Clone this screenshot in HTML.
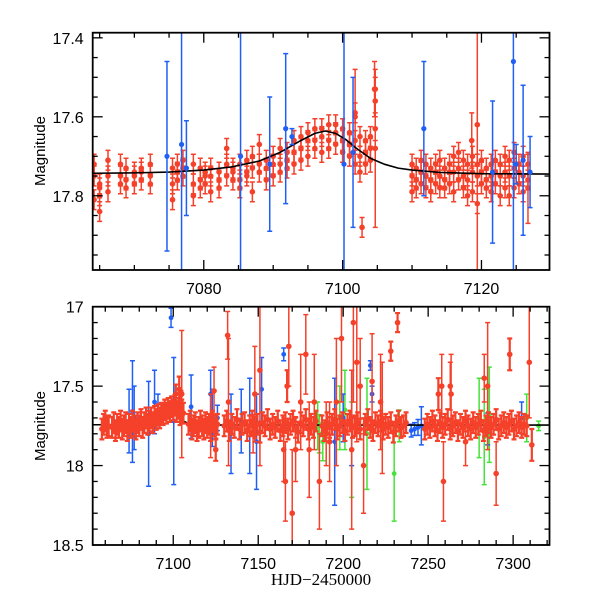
<!DOCTYPE html>
<html><head><meta charset="utf-8"><title>Light curve</title>
<style>
html,body{margin:0;padding:0;background:#fff;}
svg{display:block;}
text{font-family:"Liberation Sans",sans-serif;}
</style></head>
<body>
<svg id="chart" width="600" height="600" viewBox="0 0 600 600" xmlns="http://www.w3.org/2000/svg">
<rect width="600" height="600" fill="#fff"/>
<g id="toppanel"></g>
<g id="botpanel"></g>
<text x="45" y="151" font-size="15" text-anchor="middle" transform="rotate(-90 45 151)">Magnitude</text>
<text x="45" y="426" font-size="15" text-anchor="middle" transform="rotate(-90 45 426)">Magnitude</text>
<text x="321" y="585" font-size="17" text-anchor="middle" style="font-family:'Liberation Serif',serif">HJD−2450000</text>
</svg>
<script>
// ---------- model curve ----------
const curveT = [7050,7064,7070,7075,7080,7084,7088,7091,7094,7096,7097.5,7099,7100.5,7102,7104,7106,7108,7110,7114,7120,7130,7322];
const curveM = [17.743,17.743,17.742,17.74,17.735,17.727,17.712,17.69,17.66,17.642,17.636,17.642,17.658,17.68,17.705,17.72,17.73,17.735,17.741,17.744,17.745,17.745];

// ---------- top panel data ----------
const topRedT = [7064.2,7064.2,7064.2,7065,7065,7065,7065,7066.2,7066.2,7066.2,7068,7068,7068,7068.8,7068.8,7068.8,7070,7070,7070,7071,7071,7071,7072.3,7072.3,7072.3,7075.5,7075.5,7075.5,7076.2,7076.2,7076.2,7077,7077,7077,7078.5,7078.5,7078.5,7079.5,7079.5,7079.5,7080.2,7080.2,7080.2,7081,7081,7081,7082.2,7082.2,7082.2,7083.3,7083.3,7083.3,7084.2,7084.2,7084.2,7085.2,7085.2,7085.2,7086.2,7086.2,7086.2,7087,7087,7087,7088,7088,7088,7089,7089,7089,7090,7090,7090,7091,7091,7091,7092,7092,7092,7093,7093,7093,7094,7094,7094,7095,7095,7095,7096,7096,7096,7097,7097,7097,7098,7098,7098,7099,7099,7099,7100,7100,7100,7101,7101,7101,7101.8,7101.8,7101.8,7102.5,7102.5,7102.5,7103.3,7103.3,7103.3,7104,7104,7104,7104.7,7104.7,7104.7,7104.7,7101.8,7104.6,7102.8,
7110,7110,7110,7110.6,7110.6,7110.6,7111.3,7111.3,7111.3,7112,7112,7112,7112.7,7112.7,7112.7,7113.4,7113.4,7113.4,7114,7114,7114,7114.7,7114.7,7114.7,7115.4,7115.4,7115.4,7116,7116,7116,7116.7,7116.7,7116.7,7117.4,7117.4,7117.4,7118,7118,7118,7118.7,7118.7,7118.7,7119.4,7119.4,7119.4,7120,7120,7120,7120.7,7120.7,7120.7,7121.4,7121.4,7121.4,7122,7122,7122,7122.7,7122.7,7122.7,7123.4,7123.4,7123.4,7124,7124,7124,7124.7,7124.7,7124.7,7125.4,7125.4,7125.4,7126,7126,7126,7126.7,7126.7,7126.7,7118.6,7119.4,7124.9];
const topRedM = [17.72,17.75,17.81,17.77,17.80,17.84,17.78,17.71,17.75,17.79,17.72,17.75,17.77,17.73,17.76,17.78,17.74,17.75,17.77,17.73,17.74,17.76,17.72,17.75,17.77,17.73,17.77,17.81,17.72,17.74,17.76,17.71,17.73,17.75,17.72,17.77,17.80,17.73,17.76,17.78,17.74,17.77,17.75,17.73,17.75,17.79,17.74,17.76,17.78,17.68,17.72,17.75,17.73,17.74,17.76,17.72,17.76,17.78,17.71,17.74,17.75,17.70,17.73,17.79,17.67,17.72,17.74,17.71,17.73,17.76,17.70,17.72,17.75,17.68,17.72,17.74,17.69,17.71,17.73,17.66,17.69,17.72,17.65,17.68,17.71,17.64,17.66,17.70,17.63,17.66,17.68,17.63,17.65,17.69,17.62,17.66,17.68,17.62,17.64,17.67,17.63,17.66,17.69,17.64,17.67,17.70,17.59,17.66,17.72,17.65,17.70,17.74,17.66,17.69,17.72,17.65,17.68,17.71,17.53,17.56,17.63,17.68,17.60,17.53,17.88,
17.72,17.75,17.79,17.73,17.76,17.78,17.71,17.74,17.77,17.72,17.75,17.78,17.73,17.76,17.79,17.72,17.74,17.77,17.71,17.75,17.78,17.73,17.76,17.78,17.72,17.74,17.77,17.70,17.74,17.79,17.69,17.73,17.76,17.71,17.75,17.78,17.72,17.76,17.80,17.70,17.74,17.79,17.72,17.75,17.82,17.71,17.74,17.77,17.73,17.76,17.78,17.72,17.75,17.79,17.71,17.74,17.77,17.72,17.75,17.80,17.70,17.74,17.78,17.71,17.75,17.80,17.69,17.73,17.78,17.72,17.74,17.77,17.70,17.75,17.79,17.72,17.76,17.78,17.66,17.62,17.80];
const topRedE = [0.025,0.025,0.025,0.025,0.025,0.025,0.025,0.025,0.025,0.025,0.025,0.025,0.025,0.025,0.025,0.025,0.025,0.025,0.025,0.025,0.025,0.025,0.025,0.025,0.025,0.025,0.025,0.025,0.025,0.025,0.025,0.025,0.025,0.025,0.025,0.025,0.025,0.025,0.025,0.025,0.025,0.025,0.025,0.025,0.025,0.025,0.025,0.025,0.025,0.025,0.025,0.025,0.025,0.025,0.025,0.025,0.025,0.025,0.025,0.025,0.025,0.025,0.025,0.025,0.025,0.025,0.025,0.025,0.025,0.025,0.025,0.025,0.025,0.025,0.025,0.025,0.025,0.025,0.025,0.025,0.025,0.025,0.025,0.025,0.025,0.025,0.025,0.025,0.025,0.025,0.025,0.025,0.025,0.025,0.025,0.025,0.025,0.025,0.025,0.025,0.025,0.025,0.025,0.025,0.025,0.025,0.025,0.025,0.025,0.025,0.025,0.025,0.025,0.025,0.025,0.025,0.025,0.03,0.03,0.03,0.03,0.2,0.12,0.07,
0.025,0.025,0.025,0.025,0.025,0.025,0.025,0.025,0.025,0.025,0.025,0.025,0.025,0.025,0.025,0.025,0.025,0.025,0.025,0.025,0.025,0.025,0.025,0.025,0.025,0.025,0.025,0.025,0.025,0.025,0.025,0.025,0.025,0.025,0.025,0.025,0.025,0.025,0.025,0.025,0.025,0.025,0.025,0.025,0.025,0.025,0.025,0.025,0.025,0.025,0.025,0.025,0.025,0.025,0.025,0.025,0.025,0.025,0.025,0.025,0.025,0.025,0.025,0.025,0.025,0.025,0.025,0.025,0.025,0.025,0.025,0.025,0.025,0.025,0.025,0.025,0.025,0.025,0.09,0.07,0.45];
const topBlueT = [7074.7,7076.8,7077.5,7085.3,7089.5,7091.8,7092.7,7100.2,7101.5,7111.7,7121.6,7124.6,7125,7126,7127];
const topBlueM = [17.70,17.67,17.73,17.70,17.72,17.63,17.65,17.72,17.69,17.63,17.74,17.46,17.72,17.71,17.74];
const topBlueE = [0.24,0.33,0.12,0.6,0.17,0.19,0.02,0.5,0.19,0.17,0.18,0.6,0.05,0.19,0.09];

// ---------- bottom panel data ----------
const botRedT = [7058,7059,7060,7061,7062,
7064,7065,7066,7067,7068,7069,7070,7071,7072,7073,7074,7075,7076,7077,7078,7079,7080,7081,7082,7083,7084,7085,7086,7087,7088,7089,7090,7091,7092,7093,7094,7095,7096,7097,7098,7099,7100,7101,7102,7103,7104,7105,7106,
7109,7110,7111,7112,7113,7114,7115,7116,7117,7118,7119,7120,7121,7122,7123,7124,7125,7126,
7130,7131.5,7133,7134.5,7136,7137.5,7139,7140.5,7142,7143.5,7145,7146.5,7148,7149.5,7151,7152.5,7154,7155.5,7157,7158.5,7160,7161.5,7163,7164.5,7166,7167.5,7169,7170.5,7172,7173.5,7175,7176.5,7178,7179.5,7181,7182.5,7184,7187.5,7189,7190.5,7192,7193.5,7195,7196.5,7198,7199.5,7201,7202.5,7204,7205.5,7207,7208.5,7210,7213,7214.5,7216,7217.5,7219,7220.5,7222,7223.5,7225,7226.5,7228,7229.5,7231,7232.5,7234,7235.5,7237,
7248,7249.5,7251,7252.5,7254,7255.5,7257,7258.5,7260,7261.5,7263,7264.5,7266,7267.5,7269,7270.5,7272,7273.5,7275,7276.5,7278,7279.5,7281,7282.5,7284,7285.5,7287,7288.5,7290,7291.5,7293,7294.5,7296,7297.5,7299,7300.5,7302,7303.5,7305,7306.5,7308,7309.5,7311,
7101.5,7103.5,7104.5,7105,7122,7124,7125,7132,7132.5,7147,7148,7151,7165,7166,7167,7168,7170,7172,7175,7178,7180,7183,7186,7190,7192,7196,7199,7205,7206,7208,7210,7212,7217,7222,7223,7228,7232,7256,7259,7258,7263,7263.5,7272,7283,7285,7290,7298,7300,7305];
const botRedM = [17.77,17.74,17.72,17.76,17.75,
17.76,17.73,17.78,17.74,17.76,17.72,17.77,17.75,17.73,17.78,17.74,17.76,17.72,17.75,17.77,17.73,17.75,17.71,17.76,17.73,17.70,17.74,17.72,17.70,17.73,17.69,17.71,17.68,17.70,17.67,17.68,17.65,17.67,17.64,17.66,17.63,17.65,17.62,17.66,17.64,17.68,17.65,17.67,
17.74,17.72,17.77,17.75,17.73,17.78,17.76,17.72,17.75,17.77,17.73,17.76,17.74,17.78,17.72,17.75,17.77,17.74,
17.75,17.72,17.78,17.74,17.76,17.71,17.77,17.74,17.73,17.78,17.75,17.72,17.76,17.74,17.79,17.73,17.75,17.71,17.77,17.74,17.76,17.72,17.78,17.75,17.73,17.77,17.74,17.72,17.76,17.79,17.73,17.75,17.71,17.77,17.74,17.76,17.72,17.75,17.78,17.73,17.76,17.74,17.71,17.77,17.75,17.73,17.78,17.74,17.72,17.76,17.75,17.73,17.77,17.74,17.71,17.76,17.78,17.73,17.75,17.72,17.77,17.74,17.76,17.73,17.79,17.75,17.72,17.76,
17.75,17.73,17.77,17.74,17.76,17.72,17.75,17.78,17.73,17.76,17.74,17.71,17.77,17.75,17.73,17.78,17.74,17.76,17.72,17.75,17.77,17.73,17.76,17.74,17.72,17.78,17.75,17.73,17.76,17.74,17.71,17.77,17.75,17.73,17.76,17.74,17.72,17.77,17.75,17.73,17.76,17.74,17.75,
17.35,17.87,17.55,17.52,17.60,17.55,17.75,17.53,17.90,17.18,17.60,17.80,17.55,17.40,17.90,18.10,17.50,17.25,18.30,17.90,17.60,17.30,17.90,17.60,18.10,17.80,17.85,17.60,17.20,17.90,17.10,17.35,17.50,18.00,17.47,17.60,17.70,17.28,17.10,17.55,18.10,17.50,17.50,17.55,17.85,17.45,17.50,18.05,17.30];
const botRedE = [0.065,0.065,0.065,0.065,0.065,
0.065,0.065,0.065,0.065,0.065,0.065,0.065,0.065,0.065,0.065,0.065,0.065,0.065,0.065,0.065,0.065,0.065,0.065,0.065,0.065,0.065,0.065,0.065,0.065,0.065,0.065,0.065,0.065,0.065,0.065,0.065,0.065,0.065,0.065,0.065,0.065,0.065,0.065,0.065,0.065,0.065,0.065,0.065,
0.065,0.065,0.065,0.065,0.065,0.065,0.065,0.065,0.065,0.065,0.065,0.065,0.065,0.065,0.065,0.065,0.065,0.065,
0.065,0.065,0.065,0.065,0.065,0.065,0.065,0.065,0.065,0.065,0.065,0.065,0.065,0.065,0.065,0.065,0.065,0.065,0.065,0.065,0.065,0.065,0.065,0.065,0.065,0.065,0.065,0.065,0.065,0.065,0.065,0.065,0.065,0.065,0.065,0.065,0.065,0.065,0.065,0.065,0.065,0.065,0.065,0.065,0.065,0.065,0.065,0.065,0.065,0.065,0.065,0.065,0.065,0.065,0.065,0.065,0.065,0.065,0.065,0.065,0.065,0.065,0.065,0.065,0.065,0.065,0.065,0.065,
0.065,0.065,0.065,0.065,0.065,0.065,0.065,0.065,0.065,0.065,0.065,0.065,0.065,0.065,0.065,0.065,0.065,0.065,0.065,0.065,0.065,0.065,0.065,0.065,0.065,0.065,0.065,0.065,0.065,0.065,0.065,0.065,0.065,0.065,0.065,0.065,0.065,0.065,0.065,0.065,0.065,0.065,0.065,
0.35,0.1,0.06,0.08,0.07,0.4,0.2,0.15,0.07,0.15,0.4,0.12,0.3,0.6,0.2,0.25,0.1,0.25,0.4,0.2,0.3,0.25,0.3,0.3,0.3,0.2,0.25,0.4,0.4,0.5,0.5,0.5,0.3,0.3,0.3,0.3,0.35,0.06,0.06,0.1,0.25,0.2,0.15,0.25,0.15,0.15,0.4,0.2,0.1];
const botBlueT = [7074,7076,7077,7085.5,7089,7091,7098.7,7100.3,7110.5,7122,7123,7126,7134,7140,7145,7149,7152,7165,7195,7200,7205,7216,7217,7240,7242,7244,7246,7285,7305];
const botBlueM = [17.72,17.66,17.70,17.80,17.60,17.65,17.07,17.72,17.63,17.55,17.70,17.70,17.80,17.72,17.75,17.85,17.52,17.30,17.85,17.70,17.70,17.37,17.55,17.78,17.77,17.76,17.75,17.77,17.70];
const botBlueE = [0.2,0.32,0.2,0.33,0.2,0.1,0.06,0.4,0.2,0.15,0.18,0.08,0.25,0.2,0.3,0.3,0.2,0.04,0.4,0.15,0.3,0.03,0.05,0.04,0.04,0.05,0.12,0.1,0.1];
const botGreenT = [7185,7186,7188,7198,7201,7205,7214,7230,7233,7280,7283,7286,7308,7315];
const botGreenM = [17.75,17.80,17.85,17.70,17.65,17.90,17.80,18.05,17.75,17.70,17.82,17.68,17.70,17.75];
const botGreenE = [0.15,0.12,0.12,0.2,0.25,0.3,0.35,0.3,0.1,0.25,0.3,0.3,0.15,0.03];

const NS='http://www.w3.org/2000/svg';
const RED='#f5402a', BLUE='#1f5ff5', GREEN='#44e33a';
function mk(tag, attrs, parent){const e=document.createElementNS(NS,tag);for(const k in attrs)e.setAttribute(k,attrs[k]);parent.appendChild(e);return e;}

function makePanel(g, id, box, xr, yr, xMinor, xMajor, yMinor, yMajor, xLabFmt, yLabFmt){
  const X=t=>box.l+(t-xr[0])/(xr[1]-xr[0])*(box.r-box.l);
  const Y=m=>box.t+(m-yr[0])/(yr[1]-yr[0])*(box.b-box.t);
  const clipId='clip-'+id;
  const defs=mk('defs',{},g);
  const cp=mk('clipPath',{id:clipId},defs);
  mk('rect',{x:box.l,y:box.t,width:box.r-box.l,height:box.b-box.t},cp);
  const plot=mk('g',{'clip-path':'url(#'+clipId+')'},g);
  
  
  return {X,Y,plot,box,xr,yr,xMinor,xMajor,yMinor,yMajor,xLabFmt,yLabFmt,g};
}
function drawFrame(P, id){
  const {X,Y,box,xr,yr,g}=P;
  const ax=mk('g',{stroke:'#000','stroke-width':1.3},g);
  
  
  mk('rect',{x:box.l,y:box.t,width:box.r-box.l,height:box.b-box.t,fill:'none','stroke-width':1.8},ax);
  for(let i=Math.ceil(xr[0]/P.xMinor); i*P.xMinor<=xr[1]; i++){
    const v=i*P.xMinor;
    const major=Math.abs(v/P.xMajor-Math.round(v/P.xMajor))<1e-6;
    const L=major?10:5, x=X(v);
    mk('line',{x1:x,x2:x,y1:box.b,y2:box.b-L},ax);
    mk('line',{x1:x,x2:x,y1:box.t,y2:box.t+L},ax);
    if(major){const t=mk('text',{x:x,y:box.b+24,'font-size':16,'text-anchor':'middle',stroke:'none',fill:'#000'},g);t.textContent=P.xLabFmt(v);
      
      }
  }
  for(let i=Math.ceil(yr[0]/P.yMinor-1e-6); i*P.yMinor<=yr[1]+1e-6; i++){
    const v=i*P.yMinor;
    const major=Math.abs(v/P.yMajor-Math.round(v/P.yMajor))<1e-6;
    const L=major?10:5, y=Y(v);
    mk('line',{x1:box.l,x2:box.l+L,y1:y,y2:y},ax);
    mk('line',{x1:box.r,x2:box.r-L,y1:y,y2:y},ax);
    if(major){const t=mk('text',{x:box.l-9,y:y+6,'font-size':16,'text-anchor':'end',stroke:'none',fill:'#000'},g);t.textContent=P.yLabFmt(v);
      
      }
  }
}
function series(P, T, M, E, color, name, r, sw){
  const grp=mk('g',{},P.plot);
  
  
  const n=Math.min(T.length,M.length,E.length);
  for(let i=0;i<n;i++){
    const x=P.X(T[i]), y=P.Y(M[i]), y1=P.Y(M[i]-E[i]), y2=P.Y(M[i]+E[i]);
    const w=E[i]>0.1?1.5:sw;
    const eb=mk('path',{d:`M${x},${y1}V${y2}M${x-2.5},${y1}H${x+2.5}M${x-2.5},${y2}H${x+2.5}`,stroke:color,'stroke-width':w,fill:'none'},grp);
    
    
    const c=mk('circle',{cx:x,cy:y,r:r,fill:color},grp);
    
    
  }
}
function drawCurve(P, name){
  let d='';
  for(let i=0;i<curveT.length;i++) d+=(i?'L':'M')+P.X(curveT[i]).toFixed(2)+','+P.Y(curveM[i]).toFixed(2);
  const p=mk('path',{d:d,stroke:'#000','stroke-width':1.6,fill:'none','stroke-linejoin':'round'},P.plot);
  
  
}

const topP=makePanel(document.getElementById('toppanel'),'top',{l:92.7,r:549.5,t:32.7,b:270},[7064.0,7129.8],[17.387,17.988],5,20,0.05,0.2,v=>String(v),v=>v.toFixed(1));
series(topP, topRedT, topRedM, topRedE, RED, 'top-red-series', 2.8, 1.5);
drawCurve(topP,'top-model-curve');
series(topP, topBlueT, topBlueM, topBlueE, BLUE, 'top-blue-series', 2.6, 1.5);
drawFrame(topP,'top');

const botP=makePanel(document.getElementById('botpanel'),'bot',{l:92.7,r:549.5,t:306.7,b:545},[7052.6,7321.4],[17.0,18.5],10,50,0.1,0.5,v=>String(v),v=>(Math.abs(v-Math.round(v))<1e-6?String(Math.round(v)):v.toFixed(1)));
series(botP, botGreenT, botGreenM, botGreenE, GREEN, 'bottom-green-series', 2.4, 1.5);
series(botP, botBlueT, botBlueM, botBlueE, BLUE, 'bottom-blue-series', 2.4, 1.5);
drawCurve(botP,'bottom-model-curve');
series(botP, botRedT, botRedM, botRedE, RED, 'bottom-red-series', 2.8, 2.2);
drawFrame(botP,'bot');
</script>
</body></html>
